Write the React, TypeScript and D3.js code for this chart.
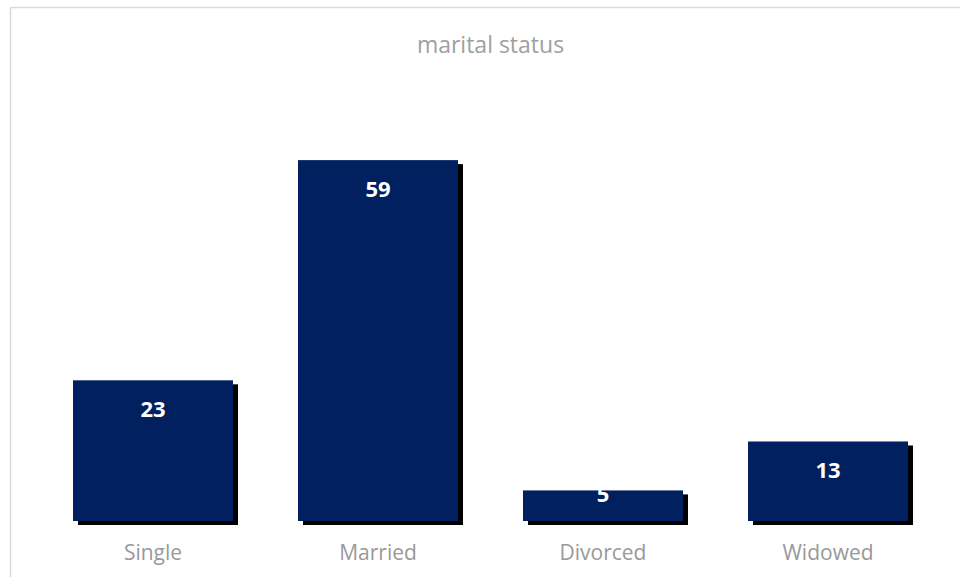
import React from "react";
import * as d3 from "d3";

const categories = ["Single", "Married", "Divorced", "Widowed"];
const values = [23, 59, 5, 13];
const title = "marital status";

const W = 960;
const H = 577;

export default function App() {
  const x = d3
    .scaleBand<string>()
    .domain(categories)
    .range([40.5, 940.5])
    .paddingInner(0.2889)
    .paddingOuter(0.1444);
  const y = d3.scaleLinear().domain([0, 60]).range([521, 154]);
  const font = "'Open Sans', 'Noto Sans', sans-serif";
  const shadowDx = 5;
  const shadowDy = 4;

  return (
    <svg
      width={W}
      height={H}
      style={{ position: "absolute", left: 0, top: 0, background: "#fff" }}
    >
      <rect x={0} y={0} width={W} height={H} fill="#fff" />
      <rect
        x={10.5}
        y={7.5}
        width={W + 20}
        height={H + 20}
        fill="#fff"
        stroke="#d9d9d9"
        strokeWidth={1.5}
      />
      <text
        x={490.5}
        y={53}
        textAnchor="middle"
        fontFamily={font}
        fontSize={23}
        fill="#a0a0a0"
      >
        {title}
      </text>
      {categories.map((c, i) => {
        const bx = x(c)!;
        const bw = x.bandwidth();
        const top = y(values[i]);
        const bottom = y(0);
        return (
          <g key={c}>
            <rect
              x={bx + shadowDx}
              y={top + shadowDy}
              width={bw}
              height={bottom - top}
              fill="#000"
            />
            <rect
              x={bx}
              y={top}
              width={bw}
              height={bottom - top}
              fill="#002060"
            />
          </g>
        );
      })}
      {categories.map((c, i) => {
        const cx = x(c)! + x.bandwidth() / 2;
        const top = y(values[i]);
        const bottom = y(0);
        const baseline = Math.min(top + 37, bottom - 19);
        return (
          <text
            key={"v" + c}
            x={cx}
            y={baseline}
            textAnchor="middle"
            fontFamily={font}
            fontWeight="bold"
            fontSize={22}
            fill="#fff"
          >
            {values[i]}
          </text>
        );
      })}
      {categories.map((c) => (
        <text
          key={"c" + c}
          x={x(c)! + x.bandwidth() / 2}
          y={560}
          textAnchor="middle"
          fontFamily={font}
          fontSize={21}
          fill="#999999"
        >
          {c}
        </text>
      ))}
    </svg>
  );
}
